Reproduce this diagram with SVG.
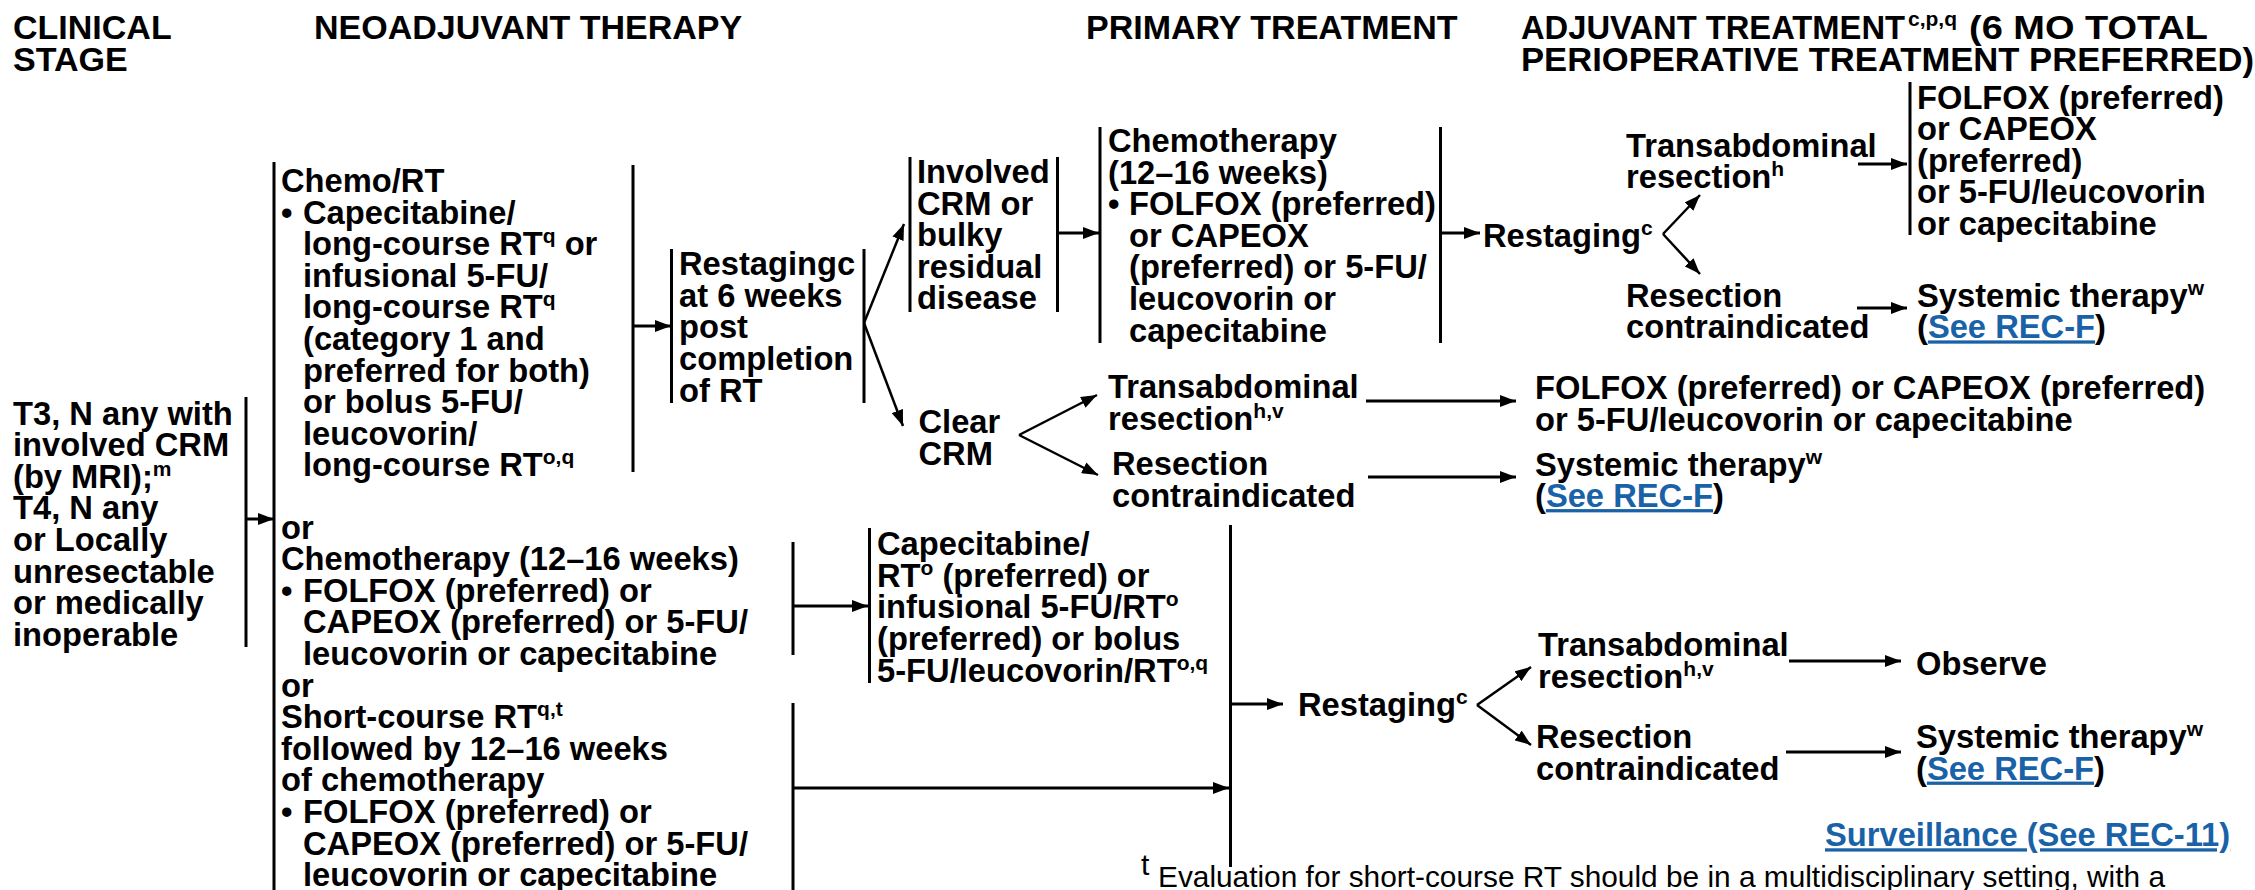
<svg xmlns="http://www.w3.org/2000/svg" width="2255" height="890" viewBox="0 0 2255 890">
<style>
.t{font-family:"Liberation Sans",Arial,sans-serif;font-weight:bold;font-size:32.7px;fill:#000}
.h{font-size:34px}
.s{font-size:21px}
.lk{fill:#1a62a8;text-decoration:underline}
.fn{font-weight:normal;font-size:30px}
.ln{stroke:#000;stroke-width:3;fill:none}
.ar{stroke:#000;stroke-width:3;fill:none;marker-end:url(#ah)}
.dg{stroke:#000;stroke-width:2.5;fill:none;marker-end:url(#ah)}
</style>
<defs>
<marker id="ah" viewBox="0 0 16 12" refX="16" refY="6" markerWidth="16" markerHeight="12" markerUnits="userSpaceOnUse" orient="auto"><path d="M0,0 L16,6 L0,12 z" fill="#000"/></marker>
</defs>
<rect width="2255" height="890" fill="#fff"/>

<g id="headers" transform="translate(0,1)">
<text class="t h" x="13" y="38">CLINICAL</text>
<text class="t h" x="13" y="70">STAGE</text>
<text class="t h" x="314" y="38">NEOADJUVANT THERAPY</text>
<text class="t h" x="1086" y="38">PRIMARY TREATMENT</text>
<text class="t h" x="1521" y="38" textLength="384" lengthAdjust="spacingAndGlyphs">ADJUVANT TREATMENT</text>
<text class="t s" x="1908" y="25">c,p,q</text>
<text class="t h" x="1969" y="38" textLength="239" lengthAdjust="spacingAndGlyphs">(6 MO TOTAL</text>
<text class="t h" x="1521" y="70" textLength="733" lengthAdjust="spacingAndGlyphs">PERIOPERATIVE TREATMENT PREFERRED)</text>
</g>

<g id="connectors">
<line class="ln" x1="246" y1="397" x2="246" y2="647"/>
<line class="ar" x1="246" y1="519" x2="274" y2="519"/>
<line class="ln" x1="274" y1="162" x2="274" y2="890"/>
<line class="ln" x1="633" y1="165" x2="633" y2="472"/>
<line class="ar" x1="633" y1="326" x2="671" y2="326"/>
<line class="ln" x1="671.5" y1="249" x2="671.5" y2="403"/>
<line class="ln" x1="864" y1="249" x2="864" y2="403"/>
<line class="dg" x1="864" y1="323" x2="904" y2="224"/>
<line class="dg" x1="864" y1="323" x2="903" y2="426"/>
<line class="ln" x1="910" y1="157" x2="910" y2="312"/>
<line class="ln" x1="1057.5" y1="157" x2="1057.5" y2="312"/>
<line class="ar" x1="1057.5" y1="233" x2="1099" y2="233"/>
<line class="ln" x1="1100" y1="127" x2="1100" y2="343"/>
<line class="ln" x1="1440.5" y1="127" x2="1440.5" y2="343"/>
<line class="ar" x1="1440.5" y1="233" x2="1480" y2="233"/>
<line class="dg" x1="1663" y1="234" x2="1700" y2="195"/>
<line class="dg" x1="1663" y1="234" x2="1700" y2="274"/>
<line class="ar" x1="1858" y1="164" x2="1907" y2="164"/>
<line class="ln" x1="1910" y1="82" x2="1910" y2="235"/>
<line class="ar" x1="1857" y1="308" x2="1907" y2="308"/>
<line class="dg" x1="1019" y1="435" x2="1097" y2="395"/>
<line class="dg" x1="1019" y1="435" x2="1098" y2="475"/>
<line class="ar" x1="1366" y1="401" x2="1516" y2="401"/>
<line class="ar" x1="1368" y1="477" x2="1516" y2="477"/>
<line class="ln" x1="793" y1="542" x2="793" y2="655"/>
<line class="ar" x1="793" y1="606" x2="868" y2="606"/>
<line class="ln" x1="869.5" y1="528" x2="869.5" y2="683"/>
<line class="ln" x1="1230.5" y1="525" x2="1230.5" y2="867"/>
<line class="ln" x1="793" y1="703" x2="793" y2="890"/>
<line class="ar" x1="793" y1="788" x2="1229" y2="788"/>
<line class="ar" x1="1230.5" y1="704" x2="1283" y2="704"/>
<line class="dg" x1="1477" y1="705" x2="1531" y2="667"/>
<line class="dg" x1="1477" y1="705" x2="1531" y2="745"/>
<line class="ar" x1="1789" y1="661" x2="1901" y2="661"/>
<line class="ar" x1="1786" y1="752" x2="1901" y2="752"/>
</g>

<g id="clinical-stage" transform="translate(0,3.5)">
<text class="t" x="13" y="421">T3, N any with</text>
<text class="t" x="13" y="452.6">involved CRM</text>
<text class="t" x="13" y="484.2">(by MRI);<tspan class="s" dy="-12">m</tspan></text>
<text class="t" x="13" y="515.8">T4, N any</text>
<text class="t" x="13" y="547.4">or Locally</text>
<text class="t" x="13" y="579">unresectable</text>
<text class="t" x="13" y="610.6">or medically</text>
<text class="t" x="13" y="642.2">inoperable</text>
</g>

<g id="neo-chemort" transform="translate(0,7)">
<text class="t" x="281" y="185">Chemo/RT</text>
<text class="t" x="281" y="216.6">•</text>
<text class="t" x="303" y="216.6">Capecitabine/</text>
<text class="t" x="303" y="248.2">long-course RT<tspan class="s" dy="-12">q</tspan><tspan dy="12"> or</tspan></text>
<text class="t" x="303" y="279.8">infusional 5-FU/</text>
<text class="t" x="303" y="311.4">long-course RT<tspan class="s" dy="-12">q</tspan></text>
<text class="t" x="303" y="343">(category 1 and</text>
<text class="t" x="303" y="374.6">preferred for both)</text>
<text class="t" x="303" y="406.2">or bolus 5-FU/</text>
<text class="t" x="303" y="437.8">leucovorin/</text>
<text class="t" x="303" y="469.4">long-course RT<tspan class="s" dy="-12">o,q</tspan></text>
</g>

<g id="neo-chemo" transform="translate(0,4)">
<text class="t" x="281" y="534.5">or</text>
<text class="t" x="281" y="566.1">Chemotherapy (12–16 weeks)</text>
<text class="t" x="281" y="597.7">•</text>
<text class="t" x="303" y="597.7">FOLFOX (preferred) or</text>
<text class="t" x="303" y="629.3">CAPEOX (preferred) or 5-FU/</text>
<text class="t" x="303" y="660.9">leucovorin or capecitabine</text>
</g>

<g id="neo-shortcourse" transform="translate(0,4)">
<text class="t" x="281" y="692.5">or</text>
<text class="t" x="281" y="724.1">Short-course RT<tspan class="s" dy="-12">q,t</tspan></text>
<text class="t" x="281" y="755.7">followed by 12–16 weeks</text>
<text class="t" x="281" y="787.3">of chemotherapy</text>
<text class="t" x="281" y="818.9">•</text>
<text class="t" x="303" y="818.9">FOLFOX (preferred) or</text>
<text class="t" x="303" y="850.5">CAPEOX (preferred) or 5-FU/</text>
<text class="t" x="303" y="882.1">leucovorin or capecitabine</text>
</g>

<g id="restaging-6wk" transform="translate(0,3.5)">
<text class="t" x="679" y="271.7">Restagingc</text>
<text class="t" x="679" y="303.3">at 6 weeks</text>
<text class="t" x="679" y="334.9">post</text>
<text class="t" x="679" y="366.5">completion</text>
<text class="t" x="679" y="398.1">of RT</text>
</g>

<g id="involved-crm" transform="translate(0,3)">
<text class="t" x="917" y="180">Involved</text>
<text class="t" x="917" y="211.6">CRM or</text>
<text class="t" x="917" y="243.2">bulky</text>
<text class="t" x="917" y="274.8">residual</text>
<text class="t" x="917" y="306.4">disease</text>
</g>

<g id="chemo-primary" transform="translate(0,3.5)">
<text class="t" x="1108" y="148.4">Chemotherapy</text>
<text class="t" x="1108" y="180">(12–16 weeks)</text>
<text class="t" x="1108" y="211.6">•</text>
<text class="t" x="1129" y="211.6">FOLFOX (preferred)</text>
<text class="t" x="1129" y="243.2">or CAPEOX</text>
<text class="t" x="1129" y="274.8">(preferred) or 5-FU/</text>
<text class="t" x="1129" y="306.4">leucovorin or</text>
<text class="t" x="1129" y="338">capecitabine</text>
</g>

<g id="restaging-top" transform="translate(0,3.5)">
<text class="t" x="1483" y="243.3">Restaging<tspan class="s" dy="-12">c</tspan></text>
</g>
<g id="trans-top" transform="translate(0,3.5)">
<text class="t" x="1626" y="153.3">Transabdominal</text>
<text class="t" x="1626" y="184.9">resection<tspan class="s" dy="-12">h</tspan></text>
</g>
<g id="contra-top" transform="translate(0,3.5)">
<text class="t" x="1626" y="303.3">Resection</text>
<text class="t" x="1626" y="334.9">contraindicated</text>
</g>
<g id="adjuvant-top" transform="translate(0,3.5)">
<text class="t" x="1917" y="105">FOLFOX (preferred)</text>
<text class="t" x="1917" y="136.6">or CAPEOX</text>
<text class="t" x="1917" y="168.2">(preferred)</text>
<text class="t" x="1917" y="199.8">or 5-FU/leucovorin</text>
<text class="t" x="1917" y="231.4">or capecitabine</text>
</g>
<g id="systemic-top" transform="translate(0,3.5)">
<text class="t" x="1917" y="303.3">Systemic therapy<tspan class="s" dy="-12">w</tspan></text>
<text class="t" x="1917" y="334.9">(<tspan class="lk">See REC-F</tspan>)</text>
</g>

<g id="clear-crm" transform="translate(0,3)">
<text class="t" x="918.5" y="430">Clear</text>
<text class="t" x="918.5" y="461.6">CRM</text>
</g>
<g id="trans-mid" transform="translate(0,3)">
<text class="t" x="1108" y="395">Transabdominal</text>
<text class="t" x="1108" y="426.6">resection<tspan class="s" dy="-12">h,v</tspan></text>
</g>
<g id="contra-mid" transform="translate(0,3)">
<text class="t" x="1112" y="472">Resection</text>
<text class="t" x="1112" y="503.6">contraindicated</text>
</g>
<g id="adjuvant-mid" transform="translate(0,3)">
<text class="t" x="1535" y="396">FOLFOX (preferred) or CAPEOX (preferred)</text>
<text class="t" x="1535" y="427.6">or 5-FU/leucovorin or capecitabine</text>
</g>
<g id="systemic-mid" transform="translate(0,3.5)">
<text class="t" x="1535" y="472">Systemic therapy<tspan class="s" dy="-12">w</tspan></text>
<text class="t" x="1535" y="503.6">(<tspan class="lk">See REC-F</tspan>)</text>
</g>

<g id="capecitabine-rt" transform="translate(0,3.5)">
<text class="t" x="877" y="551.7">Capecitabine/</text>
<text class="t" x="877" y="583.3">RT<tspan class="s" dy="-12">o</tspan><tspan dy="12"> (preferred) or</tspan></text>
<text class="t" x="877" y="614.9">infusional 5-FU/RT<tspan class="s" dy="-12">o</tspan></text>
<text class="t" x="877" y="646.5">(preferred) or bolus</text>
<text class="t" x="877" y="678.1">5-FU/leucovorin/RT<tspan class="s" dy="-12">o,q</tspan></text>
</g>

<g id="restaging-bottom" transform="translate(0,3)">
<text class="t" x="1298" y="713.3">Restaging<tspan class="s" dy="-12">c</tspan></text>
</g>
<g id="trans-bottom" transform="translate(0,3)">
<text class="t" x="1538" y="653.3">Transabdominal</text>
<text class="t" x="1538" y="684.9">resection<tspan class="s" dy="-12">h,v</tspan></text>
</g>
<g id="contra-bottom" transform="translate(0,3)">
<text class="t" x="1536" y="745">Resection</text>
<text class="t" x="1536" y="776.6">contraindicated</text>
</g>
<g id="observe" transform="translate(0,3)">
<text class="t" x="1916" y="671.7">Observe</text>
</g>
<g id="systemic-bottom" transform="translate(0,3)">
<text class="t" x="1916" y="745">Systemic therapy<tspan class="s" dy="-12">w</tspan></text>
<text class="t" x="1916" y="776.6">(<tspan class="lk">See REC-F</tspan>)</text>
</g>
<g id="surveillance" transform="translate(0,3)">
<text class="t lk" x="1825" y="843.3">Surveillance (See REC-11)</text>
</g>
<g id="footnote" transform="translate(0,1.5)">
<text class="t fn" x="1141" y="873" font-size="20">t</text>
<text class="t fn" x="1158" y="885" textLength="1007" lengthAdjust="spacingAndGlyphs">Evaluation for short-course RT should be in a multidisciplinary setting, with a</text>
</g>
</svg>
